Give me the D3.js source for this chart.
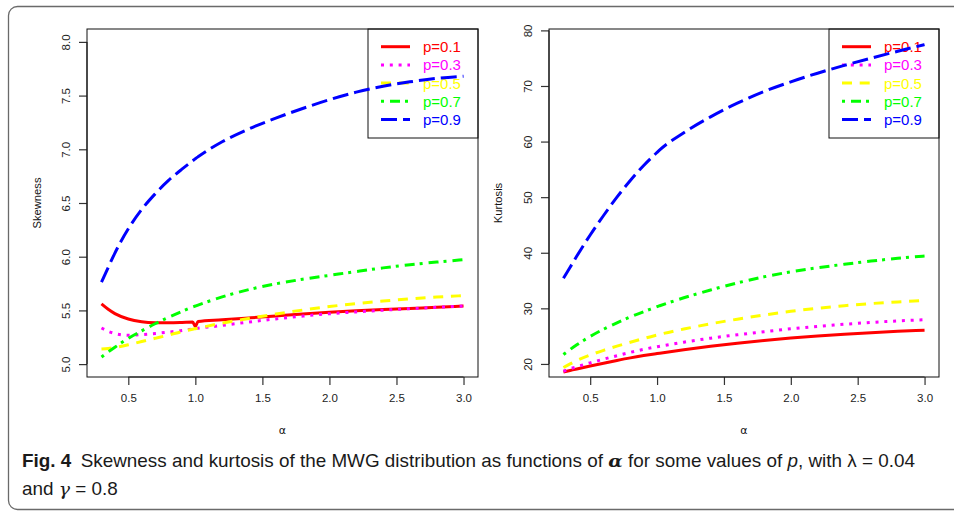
<!DOCTYPE html>
<html>
<head>
<meta charset="utf-8">
<script src="https://cdn.jsdelivr.net/npm/d3@7"></script>
<style>
  body { margin: 0; background: #fff; }
  svg { display: block; }
  .tick text { font-family: "Liberation Sans", Arial, sans-serif; fill: #222; }
</style>
</head>
<body>
<svg id="fig" width="954" height="514"></svg>
<script>
// alpha grid (shared by all curves)
var alpha = [0.3, 0.35, 0.4, 0.5, 0.6, 0.7, 0.8, 0.9, 0.98, 1.0, 1.02, 1.2, 1.4, 1.6, 1.8, 2.0, 2.2, 2.4, 2.6, 2.8, 3.0];

var pLabels = ["p=0.1", "p=0.3", "p=0.5", "p=0.7", "p=0.9"];

// skewness
var skew01 = [5.56, 5.51, 5.47, 5.42, 5.395, 5.386, 5.385, 5.388, 5.392, 5.35, 5.396, 5.412, 5.43, 5.448, 5.466, 5.482, 5.496, 5.508, 5.518, 5.53, 5.54];
var skew03 = [5.336, 5.305, 5.285, 5.268, 5.275, 5.285, 5.298, 5.312, 5.327, 5.331, 5.334, 5.36, 5.392, 5.421, 5.447, 5.469, 5.486, 5.502, 5.516, 5.529, 5.541];
var skew05 = [5.141, 5.146, 5.155, 5.18, 5.21, 5.24, 5.27, 5.303, 5.325, 5.33, 5.335, 5.382, 5.425, 5.466, 5.503, 5.536, 5.563, 5.587, 5.607, 5.624, 5.638];
var skew07 = [5.066, 5.113, 5.157, 5.24, 5.31, 5.376, 5.435, 5.49, 5.532, 5.541, 5.55, 5.626, 5.694, 5.747, 5.79, 5.826, 5.862, 5.896, 5.925, 5.95, 5.972];
var skew09 = [5.764, 5.9, 6.034, 6.26, 6.44, 6.585, 6.71, 6.815, 6.893, 6.912, 6.93, 7.07, 7.19, 7.29, 7.38, 7.462, 7.532, 7.587, 7.628, 7.66, 7.68];

// kurtosis
var kurt01 = [18.56, 18.83, 19.1, 19.63, 20.14, 20.63, 21.09, 21.5, 21.8, 21.87, 21.94, 22.55, 23.17, 23.73, 24.22, 24.65, 25.02, 25.34, 25.62, 25.86, 26.06];
var kurt03 = [18.69, 19.12, 19.5, 20.19, 20.85, 21.48, 22.08, 22.63, 23.0, 23.09, 23.18, 23.92, 24.64, 25.24, 25.8, 26.32, 26.76, 27.14, 27.47, 27.74, 27.95];
var kurt05 = [19.35, 20.0, 20.6, 21.6, 22.45, 23.2, 23.9, 24.57, 25.08, 25.2, 25.32, 26.28, 27.22, 28.05, 28.8, 29.46, 30.02, 30.48, 30.86, 31.16, 31.4];
var kurt07 = [21.69, 22.6, 23.45, 24.95, 26.25, 27.4, 28.45, 29.4, 30.12, 30.3, 30.47, 31.9, 33.3, 34.57, 35.67, 36.57, 37.3, 37.93, 38.5, 39.0, 39.4];
var kurt09 = [35.4, 37.4, 39.4, 43.2, 46.7, 50.0, 53.0, 55.7, 57.6, 58.05, 58.5, 61.6, 64.45, 66.9, 69.0, 70.75, 72.3, 73.7, 75.0, 76.25, 77.44];

// tick labels
var xTicks = [0.5, 1.0, 1.5, 2.0, 2.5, 3.0];
var skewTicks = [5.0, 5.5, 6.0, 6.5, 7.0, 7.5, 8.0];
var kurtTicks = [20, 30, 40, 50, 60, 70, 80];

// line styles (R colours / lty)
var colors = ["#ff0000", "#ff00ff", "#ffff00", "#00ff00", "#0000ff"];
var dashes = [null, "3,5.8", "10,7.7", "3,6,10,5", "16,6"];

var svg = d3.select("#fig");

// card frame
svg.append("rect")
    .attr("x", 8.5).attr("y", 6.5)
    .attr("width", 980).attr("height", 503)
    .attr("rx", 9)
    .attr("fill", "none")
    .attr("stroke", "#6a6a6a")
    .attr("stroke-width", 1.3);

function drawPanel(opt) {
    var x = d3.scaleLinear().domain([0.192, 3.108]).range([opt.left, opt.right]);
    var y = d3.scaleLinear().domain(opt.yDomain).range([377, 29]);
    var g = svg.append("g");

    // y axis
    var yAxis = d3.axisLeft(y).tickValues(opt.yTicks).tickSize(8).tickSizeOuter(0).tickFormat(opt.yFormat);
    var ya = g.append("g").attr("transform", "translate(" + opt.left + ",0)").call(yAxis);
    ya.select(".domain").remove();
    ya.selectAll(".tick line").attr("stroke", "#333").attr("stroke-width", 1.2);
    ya.selectAll(".tick text")
        .attr("transform", "rotate(-90)")
        .attr("x", 0).attr("y", -21).attr("dy", null)
        .attr("dominant-baseline", "central")
        .attr("text-anchor", "middle")
        .style("font-size", "11.5px");
    ya.append("line")
        .attr("x1", 0).attr("x2", 0)
        .attr("y1", y(opt.yTicks[0])).attr("y2", y(opt.yTicks[opt.yTicks.length - 1]))
        .attr("stroke", "#333").attr("stroke-width", 1.2);

    // x axis
    var xAxis = d3.axisBottom(x).tickValues(xTicks).tickSize(8).tickSizeOuter(0).tickFormat(d3.format(".1f"));
    var xa = g.append("g").attr("transform", "translate(0,377)").call(xAxis);
    xa.select(".domain").remove();
    xa.selectAll(".tick line").attr("stroke", "#333").attr("stroke-width", 1.2);
    xa.selectAll(".tick text")
        .attr("y", 21).attr("dy", null)
        .attr("dominant-baseline", "central")
        .style("font-size", "11.5px");
    xa.append("line")
        .attr("y1", 0).attr("y2", 0)
        .attr("x1", x(xTicks[0])).attr("x2", x(xTicks[xTicks.length - 1]))
        .attr("stroke", "#333").attr("stroke-width", 1.2);

    // box
    g.append("rect")
        .attr("x", opt.left).attr("y", 29)
        .attr("width", opt.right - opt.left).attr("height", 348)
        .attr("fill", "none").attr("stroke", "#111").attr("stroke-width", 1);

    // axis titles
    g.append("text")
        .attr("transform", "translate(" + opt.titleX + "," + ((29 + 377) / 2) + ") rotate(-90)")
        .attr("text-anchor", "middle")
        .attr("dominant-baseline", "central")
        .style("font-family", "Liberation Sans, Arial, sans-serif")
        .style("font-size", "11.2px")
        .attr("fill", "#111")
        .text(opt.yLabel);
    g.append("text")
        .attr("x", (opt.left + opt.right) / 2).attr("y", 430)
        .attr("text-anchor", "middle")
        .attr("dominant-baseline", "central")
        .style("font-family", "DejaVu Sans, sans-serif")
        .style("font-size", "11px")
        .attr("fill", "#111")
        .text("\u03b1");

    // legend
    var lx = opt.right - 110;
    var leg = g.append("g");
    leg.append("rect")
        .attr("x", lx).attr("y", 29)
        .attr("width", 110).attr("height", 109)
        .attr("fill", "none").attr("stroke", "#111").attr("stroke-width", 1);
    pLabels.forEach(function (lab, i) {
        var ly = 46.7 + i * 18.2;
        leg.append("line")
            .attr("x1", lx + 13).attr("x2", lx + 42)
            .attr("y1", ly).attr("y2", ly)
            .attr("stroke", colors[i])
            .attr("stroke-width", 3)
            .attr("stroke-dasharray", dashes[i]);
        leg.append("text")
            .attr("x", lx + 55).attr("y", ly)
            .attr("dominant-baseline", "central")
            .style("font-family", "Liberation Sans, Arial, sans-serif")
            .style("font-size", "15px")
            .attr("fill", colors[i])
            .text(lab);
    });

    // curves
    var line = d3.line()
        .x(function (d, i) { return x(alpha[i]); })
        .y(function (d) { return y(d); })
        .curve(d3.curveMonotoneX);
    opt.series.forEach(function (s, i) {
        g.append("path")
            .attr("d", line(s))
            .attr("fill", "none")
            .attr("stroke", colors[i])
            .attr("stroke-width", 3)
            .attr("stroke-dasharray", dashes[i]);
    });
}

drawPanel({
    left: 87, right: 478,
    yDomain: [4.88, 8.12],
    yTicks: skewTicks,
    yFormat: d3.format(".1f"),
    yLabel: "Skewness",
    titleX: 37,
    series: [skew01, skew03, skew05, skew07, skew09]
});

drawPanel({
    left: 549, right: 939,
    yDomain: [17.65, 80.25],
    yTicks: kurtTicks,
    yFormat: d3.format("d"),
    yLabel: "Kurtosis",
    titleX: 498,
    series: [kurt01, kurt03, kurt05, kurt07, kurt09]
});

// caption
var capFont = "'Liberation Sans Narrow', 'Liberation Sans', Arial, sans-serif";
var cap1 = svg.append("text")
    .attr("x", 22).attr("y", 467)
    .style("font-family", capFont)
    .style("font-size", "17.5px")
    .attr("fill", "#1a1a1a");
cap1.append("tspan").style("font-weight", "bold").text("Fig. 4");
cap1.append("tspan").text("\u2002Skewness and kurtosis of the MWG distribution as functions of ");
cap1.append("tspan").style("font-style", "italic").style("font-family", "DejaVu Serif, serif").style("font-weight", "bold").text("\u03b1");
cap1.append("tspan").text(" for some values of ");
cap1.append("tspan").style("font-style", "italic").text("p");
cap1.append("tspan").text(", with \u03bb = 0.04");

var cap2 = svg.append("text")
    .attr("x", 22).attr("y", 495)
    .style("font-family", capFont)
    .style("font-size", "17.5px")
    .attr("fill", "#1a1a1a");
cap2.append("tspan").text("and ");
cap2.append("tspan").style("font-style", "italic").style("font-family", "DejaVu Serif, serif").text("\u03b3");
cap2.append("tspan").text(" = 0.8");

// squeeze caption to the reference's line width
var w1 = cap1.node().getComputedTextLength();
var sx = 894 / w1;
cap1.attr("transform", "translate(22,0) scale(" + sx + ",1) translate(-22,0)");
cap2.attr("transform", "translate(22,0) scale(" + sx + ",1) translate(-22,0)");
</script>
</body>
</html>
